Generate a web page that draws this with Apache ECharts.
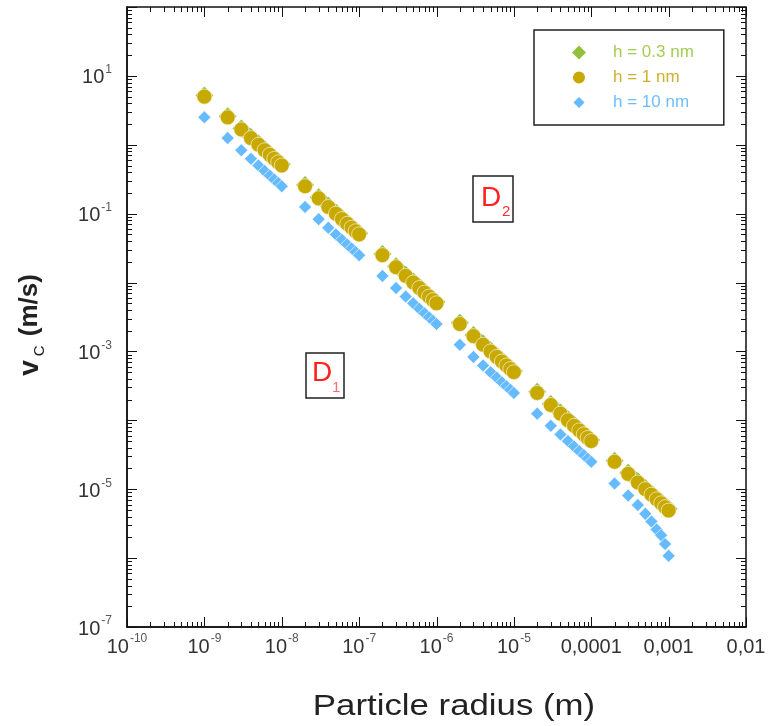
<!DOCTYPE html>
<html>
<head>
<meta charset="utf-8">
<title>v_C vs particle radius</title>
<script src="https://cdn.jsdelivr.net/npm/echarts@6/dist/echarts.min.js"></script>
<style>
  html, body { margin: 0; padding: 0; background: #fff; }
  #chart { width: 769px; height: 726px; }
</style>
</head>
<body>
<div id="chart"></div>
<script>
// particle radius (m)
const radius = [
  1e-9,
  2e-9, 3e-9, 4e-9, 5e-9, 6e-9, 7e-9, 8e-9, 9e-9, 1e-8,
  2e-8, 3e-8, 4e-8, 5e-8, 6e-8, 7e-8, 8e-8, 9e-8, 1e-7,
  2e-7, 3e-7, 4e-7, 5e-7, 6e-7, 7e-7, 8e-7, 9e-7, 1e-6,
  2e-6, 3e-6, 4e-6, 5e-6, 6e-6, 7e-6, 8e-6, 9e-6, 1e-5,
  2e-5, 3e-5, 4e-5, 5e-5, 6e-5, 7e-5, 8e-5, 9e-5, 1e-4,
  2e-4, 3e-4, 4e-4, 5e-4, 6e-4, 7e-4, 8e-4, 9e-4, 1e-3
];

// v_C (m/s), h = 0.3 nm
const vcH03 = [
  5.2,
  2.6, 1.73, 1.3, 1.04, 0.867, 0.743, 0.65, 0.578, 0.52,
  2.6e-1, 1.73e-1, 1.3e-1, 1.04e-1, 8.67e-2, 7.43e-2, 6.5e-2, 5.78e-2, 5.2e-2,
  2.6e-2, 1.73e-2, 1.3e-2, 1.04e-2, 8.67e-3, 7.43e-3, 6.5e-3, 5.78e-3, 5.2e-3,
  2.6e-3, 1.73e-3, 1.3e-3, 1.04e-3, 8.67e-4, 7.43e-4, 6.5e-4, 5.78e-4, 5.2e-4,
  2.6e-4, 1.73e-4, 1.3e-4, 1.04e-4, 8.67e-5, 7.43e-5, 6.5e-5, 5.78e-5, 5.2e-5,
  2.6e-5, 1.73e-5, 1.3e-5, 1.04e-5, 8.67e-6, 7.43e-6, 6.5e-6, 5.78e-6, 5.2e-6
];

// v_C (m/s), h = 1 nm
const vcH1 = [
  5.0,
  2.5, 1.67, 1.25, 1.0, 0.833, 0.714, 0.625, 0.556, 0.5,
  2.5e-1, 1.67e-1, 1.25e-1, 1.0e-1, 8.33e-2, 7.14e-2, 6.25e-2, 5.56e-2, 5.0e-2,
  2.5e-2, 1.67e-2, 1.25e-2, 1.0e-2, 8.33e-3, 7.14e-3, 6.25e-3, 5.56e-3, 5.0e-3,
  2.5e-3, 1.67e-3, 1.25e-3, 1.0e-3, 8.33e-4, 7.14e-4, 6.25e-4, 5.56e-4, 5.0e-4,
  2.5e-4, 1.67e-4, 1.25e-4, 1.0e-4, 8.33e-5, 7.14e-5, 6.25e-5, 5.56e-5, 5.0e-5,
  2.5e-5, 1.67e-5, 1.25e-5, 1.0e-5, 8.33e-6, 7.14e-6, 6.25e-6, 5.5e-6, 4.9e-6
];

// v_C (m/s), h = 10 nm
const vcH10 = [
  2.5,
  1.25, 0.833, 0.625, 0.5, 0.417, 0.357, 0.313, 0.278, 0.25,
  1.25e-1, 8.33e-2, 6.25e-2, 5.0e-2, 4.17e-2, 3.57e-2, 3.13e-2, 2.78e-2, 2.5e-2,
  1.25e-2, 8.33e-3, 6.25e-3, 5.0e-3, 4.17e-3, 3.57e-3, 3.13e-3, 2.78e-3, 2.5e-3,
  1.25e-3, 8.33e-4, 6.25e-4, 5.0e-4, 4.17e-4, 3.57e-4, 3.13e-4, 2.78e-4, 2.5e-4,
  1.25e-4, 8.33e-5, 6.25e-5, 5.0e-5, 4.17e-5, 3.57e-5, 3.13e-5, 2.78e-5, 2.5e-5,
  1.21e-5, 8.1e-6, 5.9e-6, 4.4e-6, 3.4e-6, 2.6e-6, 2.15e-6, 1.6e-6, 1.08e-6
];

// tick labels, one per decade
const xTickLabels = ['10^-10', '10^-9', '10^-8', '10^-7', '10^-6', '10^-5', '0,0001', '0,001', '0,01'];
const yTickLabels = ['10^-7', '', '10^-5', '', '10^-3', '', '10^-1', '', '10^1', ''];
const minorMultiples = [2, 3, 4, 5, 6, 7, 8, 9];

const X_MIN_EXP = -10, X_MAX_EXP = -2;
const Y_MIN_EXP = -7, Y_MAX_EXP = 2;

function toRich(s) {
  if (!s) return '';
  if (s.indexOf('^') < 0) return '{b|' + s + '}';
  const p = s.split('^');
  return '{b|' + p[0] + '}{s|' + p[1] + '}';
}

const labelRich = {
  b: { fontSize: 20, color: '#333', fontFamily: 'Liberation Sans, Arial', lineHeight: 24, verticalAlign: 'bottom' },
  s: { fontSize: 12, color: '#555', fontFamily: 'Liberation Sans, Arial', lineHeight: 24, verticalAlign: 'top', padding: [0, 0, 0, 1] }
};

// tick marks (major at decades, minor at 2..9)
const xTicks = [];
for (let e = X_MIN_EXP; e <= X_MAX_EXP; e++) {
  xTicks.push([Math.pow(10, e), 1e-3, 10]);
  if (e < X_MAX_EXP) minorMultiples.forEach(m => xTicks.push([m * Math.pow(10, e), 1e-3, 5]));
}
const yTicks = [];
for (let e = Y_MIN_EXP; e <= Y_MAX_EXP; e++) {
  yTicks.push([1e-6, Math.pow(10, e), 10]);
  if (e < Y_MAX_EXP) minorMultiples.forEach(m => yTicks.push([1e-6, m * Math.pow(10, e), 5]));
}

function tickLine(x1, y1, x2, y2) {
  return { type: 'line', shape: { x1, y1, x2, y2 }, style: { stroke: '#111', lineWidth: 1 } };
}

const chart = echarts.init(document.getElementById('chart'));

chart.setOption({
  animation: false,
  backgroundColor: '#fff',
  grid: {
    left: 127, right: 23, top: 7, bottom: 99,
    show: true, borderColor: '#111', borderWidth: 1.5, backgroundColor: 'transparent'
  },
  legend: {
    orient: 'vertical',
    left: 534, top: 30,
    padding: [14, 30, 14, 37],
    itemWidth: 14, itemHeight: 14, itemGap: 8,
    borderColor: '#222', borderWidth: 1.5,
    backgroundColor: '#fff',
    textStyle: { fontSize: 17, fontFamily: 'Liberation Sans, Arial', padding: [0, 0, 0, 22] },
    data: [
      { name: 'h = 0.3 nm', textStyle: { color: '#a6cc52' } },
      { name: 'h = 1 nm', textStyle: { color: '#cdb12e' } },
      { name: 'h = 10 nm', textStyle: { color: '#6cbfff' } }
    ]
  },
  xAxis: {
    type: 'log', logBase: 10,
    min: Math.pow(10, X_MIN_EXP), max: Math.pow(10, X_MAX_EXP),
    splitNumber: 10,
    axisLine: { lineStyle: { color: '#111', width: 1.5 } },
    axisTick: { show: false },
    splitLine: { show: false },
    axisLabel: {
      margin: 6,
      showMinLabel: true, showMaxLabel: true,
      formatter: v => toRich(xTickLabels[Math.round(Math.log10(v)) - X_MIN_EXP]),
      rich: labelRich
    }
  },
  yAxis: {
    type: 'log', logBase: 10,
    min: Math.pow(10, Y_MIN_EXP), max: Math.pow(10, Y_MAX_EXP),
    splitNumber: 10,
    axisLine: { lineStyle: { color: '#111', width: 1.5 } },
    axisTick: { show: false },
    splitLine: { show: false },
    axisLabel: {
      margin: 15,
      showMinLabel: true, showMaxLabel: true,
      formatter: v => toRich(yTickLabels[Math.round(Math.log10(v)) - Y_MIN_EXP]),
      rich: labelRich
    }
  },
  series: [
    {
      name: 'h = 0.3 nm', type: 'scatter', symbol: 'diamond', symbolSize: 18,
      itemStyle: { color: '#93c03c', opacity: 1 },
      data: radius.map((r, i) => [r, vcH03[i]]), z: 2
    },
    {
      name: 'h = 1 nm', type: 'scatter', symbol: 'circle', symbolSize: 15,
      itemStyle: { color: '#c8a900', borderColor: '#fff', borderWidth: 0.6, opacity: 1 },
      data: radius.map((r, i) => [r, vcH1[i]]), z: 3
    },
    {
      name: 'h = 10 nm', type: 'scatter', symbol: 'diamond', symbolSize: 13,
      itemStyle: { color: '#66bbff', borderColor: '#fff', borderWidth: 0.6, opacity: 1 },
      data: radius.map((r, i) => [r, vcH10[i]]), z: 3
    },
    {
      type: 'custom', silent: true, z: 5,
      data: xTicks,
      renderItem: (params, api) => {
        const cs = params.coordSys;
        const px = Math.round(api.coord([api.value(0), api.value(1)])[0]) + 0.5;
        const len = api.value(2);
        const bottom = cs.y + cs.height;
        return {
          type: 'group',
          children: [tickLine(px, bottom, px, bottom - len), tickLine(px, cs.y, px, cs.y + len)]
        };
      }
    },
    {
      type: 'custom', silent: true, z: 5,
      data: yTicks,
      renderItem: (params, api) => {
        const cs = params.coordSys;
        const py = Math.round(api.coord([api.value(0), api.value(1)])[1]) + 0.5;
        const len = api.value(2);
        const right = cs.x + cs.width;
        return {
          type: 'group',
          children: [tickLine(cs.x, py, cs.x + len, py), tickLine(right, py, right - len, py)]
        };
      }
    }
  ],
  graphic: [
    {
      type: 'text', x: 454, y: 707, scaleX: 1.2,
      style: {
        text: 'Particle radius (m)', x: 0, y: 0, align: 'center', verticalAlign: 'middle',
        fontSize: 29, fontFamily: 'Liberation Sans, Arial', fill: '#222'
      }
    },
    {
      type: 'text', x: 30, y: 325, rotation: Math.PI / 2,
      style: {
        text: '{v|v}{c|C}{u| (m/s)}', x: 0, y: 0, align: 'center', verticalAlign: 'middle',
        rich: {
          v: { fontSize: 28, fontWeight: 'bold', fontFamily: 'Liberation Sans, Arial', fill: '#222', lineHeight: 34, verticalAlign: 'middle' },
          c: { fontSize: 15, fontFamily: 'Liberation Sans, Arial', fill: '#222', lineHeight: 34, verticalAlign: 'bottom', padding: [0, 2, 0, 4] },
          u: { fontSize: 26, fontWeight: 'bold', fontFamily: 'Liberation Sans, Arial', fill: '#222', lineHeight: 34, verticalAlign: 'middle' }
        }
      }
    },
    // region labels D1 and D2
    {
      type: 'group', x: 306, y: 353,
      children: [
        { type: 'rect', shape: { x: 0, y: 0, width: 38, height: 45 }, style: { fill: '#fff', stroke: '#222', lineWidth: 1.5 } },
        { type: 'text', style: { text: 'D', x: 6, y: 6, fontSize: 28, fontFamily: 'Liberation Sans, Arial', fill: '#ff2020' } },
        { type: 'text', style: { text: '1', x: 26, y: 27, fontSize: 15, fontFamily: 'Liberation Sans, Arial', fill: '#ff6a6a' } }
      ]
    },
    {
      type: 'group', x: 473, y: 176,
      children: [
        { type: 'rect', shape: { x: 0, y: 0, width: 40, height: 46 }, style: { fill: '#fff', stroke: '#222', lineWidth: 1.5 } },
        { type: 'text', style: { text: 'D', x: 8, y: 8, fontSize: 28, fontFamily: 'Liberation Sans, Arial', fill: '#ff2020' } },
        { type: 'text', style: { text: '2', x: 29, y: 28, fontSize: 15, fontFamily: 'Liberation Sans, Arial', fill: '#ff3030' } }
      ]
    }
  ]
});
</script>
</body>
</html>
